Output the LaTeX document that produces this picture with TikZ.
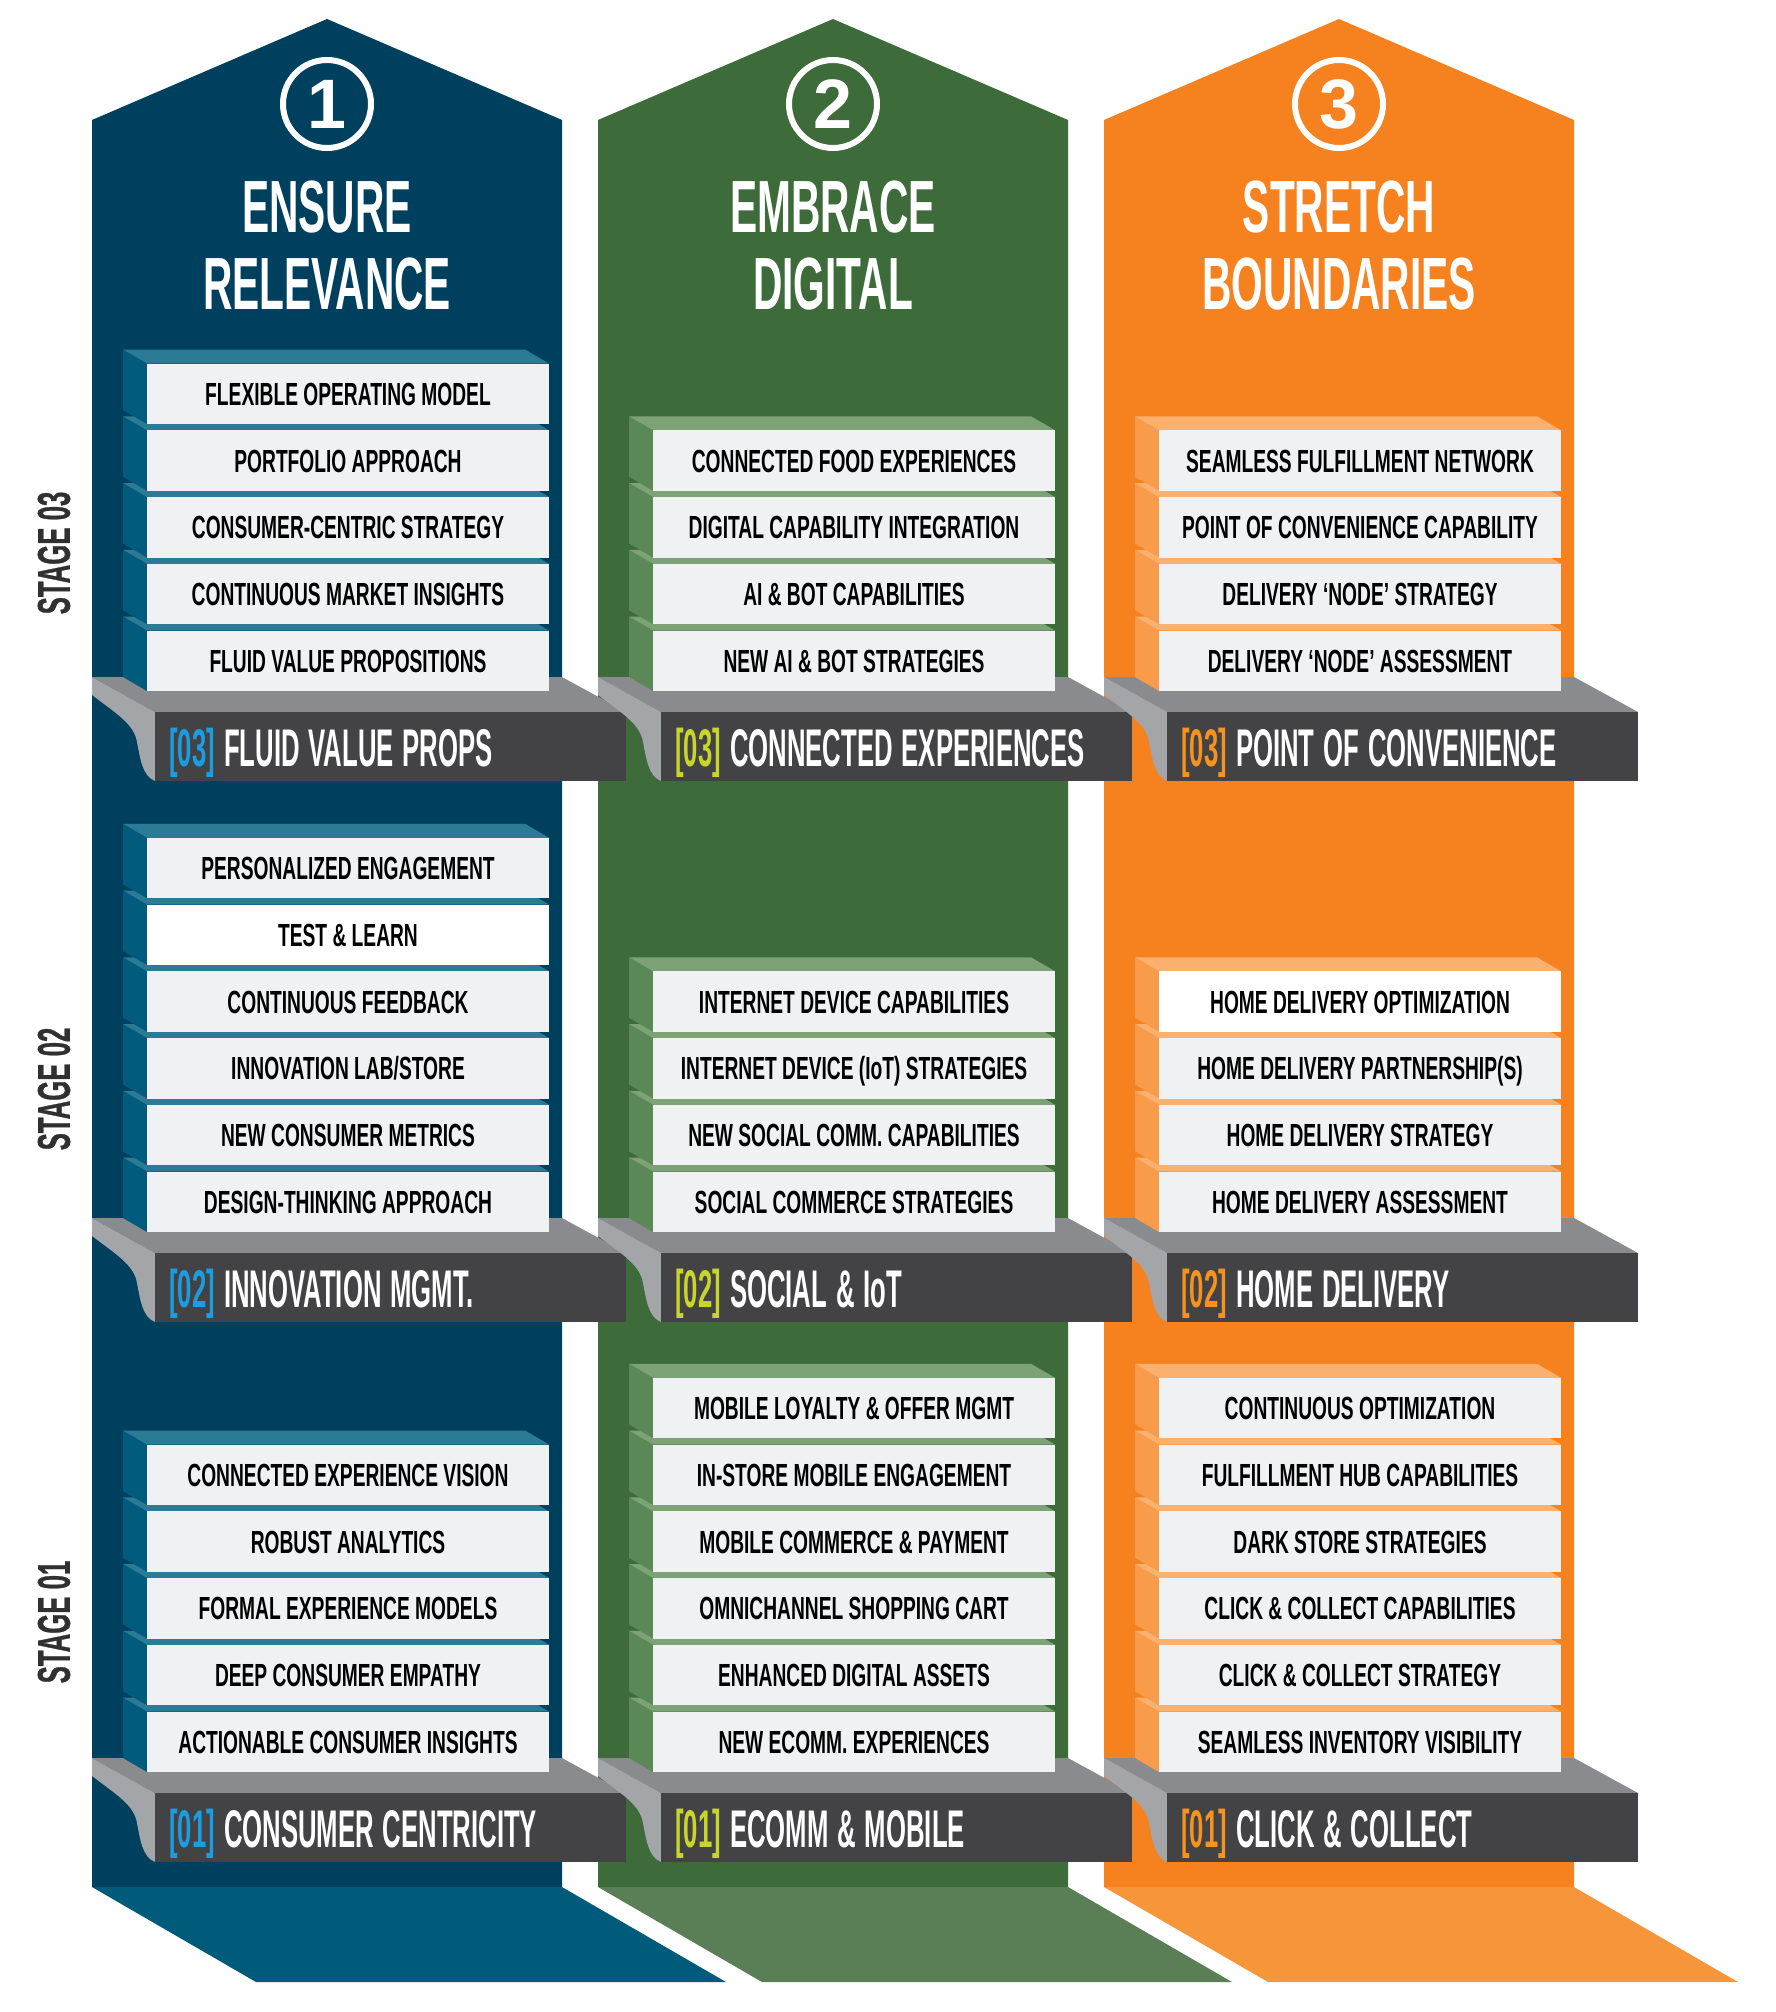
\documentclass[tikz,border=0pt]{standalone}
\usepackage{fontspec}
\newfontfamily\itemfont{Liberation Sans Bold}[FakeStretch=0.6]
\newfontfamily\labelfont{Liberation Sans Bold}[FakeStretch=0.485,WordSpace=1.25]
\newfontfamily\titlefont{Liberation Sans Bold}[FakeStretch=0.55]
\newfontfamily\stagefont{Liberation Sans Bold}[FakeStretch=0.56,FakeBold=0.6]
\newfontfamily\numfont{Liberation Sans Bold}

\definecolor{bluebody}{HTML}{00405F}
\definecolor{bluefloor}{HTML}{005A7A}
\definecolor{blueside}{HTML}{005B7D}
\definecolor{bluetop}{HTML}{2B7A96}
\definecolor{bluetag}{HTML}{1B9DE2}
\definecolor{greenbody}{HTML}{3E6B3A}
\definecolor{greenfloor}{HTML}{5A7F56}
\definecolor{greenside}{HTML}{5A8957}
\definecolor{greentop}{HTML}{7DA275}
\definecolor{greentag}{HTML}{C8D62B}
\definecolor{orangebody}{HTML}{F5821F}
\definecolor{orangefloor}{HTML}{F6953A}
\definecolor{orangeside}{HTML}{F89B4B}
\definecolor{orangetop}{HTML}{FAB06E}
\definecolor{orangetag}{HTML}{F6921E}
\definecolor{shelftop}{HTML}{8A8B8E}
\definecolor{shelfside}{HTML}{A4A5A8}
\definecolor{bardark}{HTML}{434345}
\definecolor{boxgrey}{HTML}{F0F1F3}
\definecolor{stagegrey}{HTML}{303030}

\tikzset{
  itembox/.style={minimum width=201pt, minimum height=30.25pt, inner sep=0pt,
    text height=13.75pt, text depth=0pt, text=black,
    font=\itemfont\fontsize{16pt}{16pt}\selectfont},
  labeltext/.style={anchor=base west, text=white, inner sep=0pt,
    font=\labelfont\fontsize{26.5pt}{26.5pt}\selectfont},
  titletext/.style={anchor=base, text=white, inner sep=0pt,
    font=\titlefont\fontsize{37pt}{37pt}\selectfont},
  numcircle/.style={circle, draw=white, line width=3pt, minimum size=44pt,
    inner sep=0pt, text=white, font=\numfont\fontsize{35pt}{35pt}\selectfont},
  stagetext/.style={rotate=90, text=stagegrey, inner sep=0pt,
    font=\stagefont\fontsize{23pt}{23pt}\selectfont}
}

% one box of a stack: #2 name, #3 column left, #4 top of front face, #5 colour, #6 text
\newcommand{\itembox}[6][boxgrey]{%
  \fill[#5side] (#3+55,#4) -- ++(-24,-14) -- ++(0,60.5) -- ++(24,14) -- cycle;
  \fill[#5top] (#3+55,#4) -- ++(-24,-14) -- ++(402,0) -- ++(24,14) -- cycle;
  \fill[#1] (#3+55,#4) rectangle ++(402,60.5);
  \node[itembox] (#2) at (#3+256,#4+28) {#6};
}
% shelf under a stack: #1 name, #2 column left, #3 bar top, #4 tag colour, #5 number, #6 label
\newcommand{\shelf}[6]{%
  \fill[shelftop] (#2,#3-35) -- (#2+470,#3-35) -- (#2+534,#3) -- (#2+63,#3) -- cycle;
  \fill[shelfside] (#2,#3-35) -- (#2+63,#3) -- (#2+63,#3+69)
    .. controls (#2+50,#3+64) and (#2+48,#3+45) .. (#2+45,#3+30)
    .. controls (#2+42,#3+12) and (#2+25,#3+2) .. (#2,#3-17) -- cycle;
  \fill[bardark] (#2+63,#3) rectangle (#2+534,#3+69);
  \node[labeltext] (#1) at (#2+77,#3+54) {\textcolor{#4}{#5} #6};
}

\begin{document}
\begin{tikzpicture}[x=0.5pt,y=-0.5pt]
\useasboundingbox (0,0) rectangle (1776,2012);

% Columns
\fill[bluebody] (92,1887) -- (92,120) -- (327,19) -- (562,120) -- (562,1887) -- cycle;
\fill[greenbody] (598,1887) -- (598,120) -- (833,19) -- (1068,120) -- (1068,1887) -- cycle;
\fill[orangebody] (1104,1887) -- (1104,120) -- (1339,19) -- (1574,120) -- (1574,1887) -- cycle;

\fill[bluefloor] (92,1887) -- (562,1887) -- (726,1982) -- (256,1982) -- cycle;
\fill[greenfloor] (598,1887) -- (1068,1887) -- (1232,1982) -- (762,1982) -- cycle;
\fill[orangefloor] (1104,1887) -- (1574,1887) -- (1738,1982) -- (1268,1982) -- cycle;

% Titles
\node[numcircle] (num1) at (327,104) {1};
\node[numcircle] (num2) at (833,104) {2};
\node[numcircle] (num3) at (1339,104) {3};

\node[titletext] (ensure) at (327,233) {ENSURE};
\node[titletext] (relevance) at (327,309) {RELEVANCE};
\node[titletext] (embrace) at (833,233) {EMBRACE};
\node[titletext] (digital) at (833,309) {DIGITAL};
\node[titletext] (stretch) at (1339,233) {STRETCH};
\node[titletext] (boundaries) at (1339,309) {BOUNDARIES};

% Stages
\node[stagetext] (stage3) at (54,553) {STAGE 03};
\node[stagetext] (stage2) at (54,1089) {STAGE 02};
\node[stagetext] (stage1) at (54,1622) {STAGE 01};

% Column 1, stage 3 (boxes bottom up)
\shelf{fluidprops}{92}{712}{bluetag}{[03]}{FLUID VALUE PROPS}
\itembox{c1s3e}{92}{630.5}{blue}{FLUID VALUE PROPOSITIONS}
\itembox{c1s3d}{92}{563.75}{blue}{CONTINUOUS MARKET INSIGHTS}
\itembox{c1s3c}{92}{497}{blue}{CONSUMER-CENTRIC STRATEGY}
\itembox{c1s3b}{92}{430.25}{blue}{PORTFOLIO APPROACH}
\itembox{c1s3a}{92}{363.5}{blue}{FLEXIBLE OPERATING MODEL}

% Column 1, stage 2
\shelf{innovation}{92}{1253}{bluetag}{[02]}{INNOVATION MGMT.}
\itembox{c1s2f}{92}{1171.5}{blue}{DESIGN-THINKING APPROACH}
\itembox{c1s2e}{92}{1104.75}{blue}{NEW CONSUMER METRICS}
\itembox{c1s2d}{92}{1038}{blue}{INNOVATION LAB/STORE}
\itembox{c1s2c}{92}{971.25}{blue}{CONTINUOUS FEEDBACK}
\itembox[white]{c1s2b}{92}{904.5}{blue}{TEST \& LEARN}
\itembox{c1s2a}{92}{837.75}{blue}{PERSONALIZED ENGAGEMENT}

% Column 1, stage 1
\shelf{centricity}{92}{1793}{bluetag}{[01]}{CONSUMER CENTRICITY}
\itembox{c1s1e}{92}{1711.5}{blue}{ACTIONABLE CONSUMER INSIGHTS}
\itembox{c1s1d}{92}{1644.75}{blue}{DEEP CONSUMER EMPATHY}
\itembox{c1s1c}{92}{1578}{blue}{FORMAL EXPERIENCE MODELS}
\itembox{c1s1b}{92}{1511.25}{blue}{ROBUST ANALYTICS}
\itembox{c1s1a}{92}{1444.5}{blue}{CONNECTED EXPERIENCE VISION}

% Column 2, stage 3
\shelf{connected}{598}{712}{greentag}{[03]}{CONNECTED EXPERIENCES}
\itembox{c2s3d}{598}{630.5}{green}{NEW AI \& BOT STRATEGIES}
\itembox{c2s3c}{598}{563.75}{green}{AI \& BOT CAPABILITIES}
\itembox{c2s3b}{598}{497}{green}{DIGITAL CAPABILITY INTEGRATION}
\itembox{c2s3a}{598}{430.25}{green}{CONNECTED FOOD EXPERIENCES}

% Column 2, stage 2
\shelf{socialiot}{598}{1253}{greentag}{[02]}{SOCIAL \& IoT}
\itembox{c2s2d}{598}{1171.5}{green}{SOCIAL COMMERCE STRATEGIES}
\itembox{c2s2c}{598}{1104.75}{green}{NEW SOCIAL COMM. CAPABILITIES}
\itembox{c2s2b}{598}{1038}{green}{INTERNET DEVICE (IoT) STRATEGIES}
\itembox{c2s2a}{598}{971.25}{green}{INTERNET DEVICE CAPABILITIES}

% Column 2, stage 1
\shelf{ecomm}{598}{1793}{greentag}{[01]}{ECOMM \& MOBILE}
\itembox{c2s1f}{598}{1711.5}{green}{NEW ECOMM. EXPERIENCES}
\itembox{c2s1e}{598}{1644.75}{green}{ENHANCED DIGITAL ASSETS}
\itembox{c2s1d}{598}{1578}{green}{OMNICHANNEL SHOPPING CART}
\itembox{c2s1c}{598}{1511.25}{green}{MOBILE COMMERCE \& PAYMENT}
\itembox{c2s1b}{598}{1444.5}{green}{IN-STORE MOBILE ENGAGEMENT}
\itembox{c2s1a}{598}{1377.75}{green}{MOBILE LOYALTY \& OFFER MGMT}

% Column 3, stage 3
\shelf{convenience}{1104}{712}{orangetag}{[03]}{POINT OF CONVENIENCE}
\itembox{c3s3d}{1104}{630.5}{orange}{DELIVERY ‘NODE’ ASSESSMENT}
\itembox{c3s3c}{1104}{563.75}{orange}{DELIVERY ‘NODE’ STRATEGY}
\itembox{c3s3b}{1104}{497}{orange}{POINT OF CONVENIENCE CAPABILITY}
\itembox{c3s3a}{1104}{430.25}{orange}{SEAMLESS FULFILLMENT NETWORK}

% Column 3, stage 2
\shelf{homedelivery}{1104}{1253}{orangetag}{[02]}{HOME DELIVERY}
\itembox{c3s2d}{1104}{1171.5}{orange}{HOME DELIVERY ASSESSMENT}
\itembox{c3s2c}{1104}{1104.75}{orange}{HOME DELIVERY STRATEGY}
\itembox{c3s2b}{1104}{1038}{orange}{HOME DELIVERY PARTNERSHIP(S)}
\itembox[white]{c3s2a}{1104}{971.25}{orange}{HOME DELIVERY OPTIMIZATION}

% Column 3, stage 1
\shelf{clickcollect}{1104}{1793}{orangetag}{[01]}{CLICK \& COLLECT}
\itembox{c3s1f}{1104}{1711.5}{orange}{SEAMLESS INVENTORY VISIBILITY}
\itembox{c3s1e}{1104}{1644.75}{orange}{CLICK \& COLLECT STRATEGY}
\itembox{c3s1d}{1104}{1578}{orange}{CLICK \& COLLECT CAPABILITIES}
\itembox{c3s1c}{1104}{1511.25}{orange}{DARK STORE STRATEGIES}
\itembox{c3s1b}{1104}{1444.5}{orange}{FULFILLMENT HUB CAPABILITIES}
\itembox{c3s1a}{1104}{1377.75}{orange}{CONTINUOUS OPTIMIZATION}

\end{tikzpicture}
\end{document}
